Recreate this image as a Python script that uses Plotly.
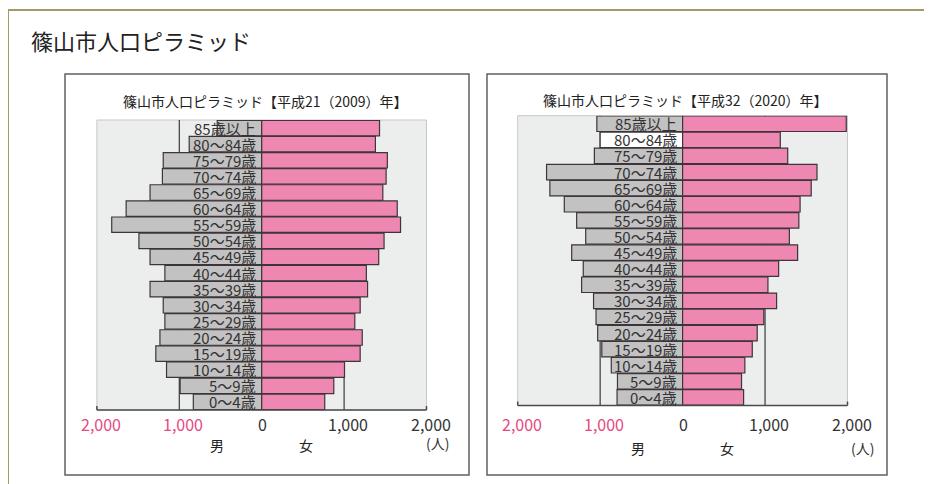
import plotly.graph_objects as go

# The page adds an 8px body margin, so the figure is sized to fill the rest of the window
OFF = 8
W, H = 932 - OFF, 484 - OFF

ages = ["85歳以上", "80〜84歳", "75〜79歳", "70〜74歳", "65〜69歳", "60〜64歳",
        "55〜59歳", "50〜54歳", "45〜49歳", "40〜44歳", "35〜39歳", "30〜34歳",
        "25〜29歳", "20〜24歳", "15〜19歳", "10〜14歳", "5〜9歳", "0〜4歳"]

male_2009 = [540, 880, 1195, 1205, 1355, 1645, 1820, 1490, 1355, 1175,
             1355, 1195, 1175, 1235, 1285, 1155, 990, 830]
female_2009 = [1430, 1380, 1525, 1510, 1470, 1645, 1685, 1485, 1420, 1270,
               1285, 1195, 1130, 1220, 1195, 1005, 875, 765]
male_2020 = [1040, 1000, 1070, 1650, 1610, 1435, 1285, 1175, 1345, 1205,
             1225, 1080, 1050, 1030, 980, 865, 790, 795]
female_2020 = [1985, 1185, 1275, 1630, 1560, 1425, 1410, 1295, 1395, 1165,
               1035, 1140, 985, 905, 845, 755, 715, 740]

tick_vals = [-2000, -1000, 0, 1000, 2000]
tick_text = ["2,000", "1,000", "0", "1,000", "2,000"]

main_title = "篠山市人口ピラミッド"
panel_titles = ["篠山市人口ピラミッド【平成21（2009）年】",
                "篠山市人口ピラミッド【平成32（2020）年】"]

FONT = "Noto Sans CJK JP"
GRAY = "#C2C2C2"
PINK = "#EE87B1"
EDGE = "#3D3538"
BG = "#ECEEEE"
TXT = "#333333"
TICKPINK = "#E84880"


def px(x):
    return (x - OFF) / W


def py(y):
    return 1 - (y - OFF) / H


# panel geometry (window pixels)
panels = [
    dict(x0=96.9, x1=426.5, y0=120, y1=410, box=(65, 74, 469, 475),
         title_x=265, title_y=101.5, sex_y=445, unit=(437, 443)),
    dict(x0=517.7, x1=847.5, y0=115.7, y1=405.5, box=(487, 74, 887, 475),
         title_x=685, title_y=100, sex_y=448, unit=(862, 448)),
]
data = [(male_2009, female_2009), (male_2020, female_2020)]

fig = go.Figure()
shapes = []
annotations = []

for i, (p, (male, female)) in enumerate(zip(panels, data)):
    xa = "x" if i == 0 else "x2"
    ya = "y" if i == 0 else "y2"
    xn = "xaxis" if i == 0 else "xaxis2"
    yn = "yaxis" if i == 0 else "yaxis2"

    male_colors = [GRAY] * len(ages)
    if i == 1:
        male_colors[1] = "#FFFFFF"

    fig.add_trace(go.Bar(y=ages, x=[-v for v in male], orientation="h",
                         marker=dict(color=male_colors, line=dict(color=EDGE, width=1.2)),
                         xaxis=xa, yaxis=ya, hoverinfo="skip"))
    fig.add_trace(go.Bar(y=ages, x=female, orientation="h",
                         marker=dict(color=PINK, line=dict(color=EDGE, width=1.2)),
                         xaxis=xa, yaxis=ya, hoverinfo="skip"))

    fig.update_layout(**{
        xn: dict(domain=[px(p["x0"]), px(p["x1"])], range=[-2000, 2000],
                 showticklabels=False, showgrid=False, zeroline=False,
                 showline=False, fixedrange=True, anchor=ya),
        yn: dict(domain=[py(p["y1"]), py(p["y0"])], type="category",
                 categoryorder="array", categoryarray=ages[::-1],
                 range=[-0.5, len(ages) - 0.5], showticklabels=False,
                 showgrid=False, zeroline=False, showline=False,
                 fixedrange=True, anchor=xa),
    })

    xd = xa + " domain"
    yd = ya + " domain"
    shapes.append(dict(type="rect", xref=xd, yref=yd, x0=0, x1=1, y0=0, y1=1,
                       line=dict(color="#C8C8C8", width=1), layer="below"))
    for v in (-1000, 1000):
        shapes.append(dict(type="line", xref=xa, yref=yd, x0=v, x1=v, y0=0, y1=1,
                           line=dict(color="#3A3A3A", width=1.2), layer="below"))
    shapes.append(dict(type="line", xref=xd, yref=yd, x0=0, x1=1, y0=0, y1=0,
                       line=dict(color="#4A4A4A", width=1.5), layer="above"))
    for e in (0, 1):
        shapes.append(dict(type="line", xref=xd, yref=yd, x0=e, x1=e, y0=0,
                           y1=4 / (p["y1"] - p["y0"]),
                           line=dict(color="#4A4A4A", width=1.5), layer="above"))
    bx0, by0, bx1, by1 = p["box"]
    shapes.append(dict(type="rect", xref="paper", yref="paper",
                       x0=px(bx0), x1=px(bx1), y0=py(by1), y1=py(by0),
                       line=dict(color="#606060", width=1.5), layer="below"))

    annotations.append(dict(text=panel_titles[i], xref="paper", yref="paper",
                            x=px(p["title_x"]), y=py(p["title_y"]),
                            xanchor="center", yanchor="middle", showarrow=False,
                            font=dict(family=FONT, size=14, color="#222222")))
    for a in ages:
        annotations.append(dict(text=a, xref=xa, yref=ya, x=0, y=a,
                                xanchor="right", yanchor="middle", xshift=-4,
                                showarrow=False,
                                font=dict(family=FONT, size=15, color=TXT)))
    for v, t in zip(tick_vals, tick_text):
        annotations.append(dict(text=t, xref=xa, yref="paper", x=v, y=py(424),
                                xanchor="center", yanchor="middle",
                                xshift=4 if v != 0 else 1, showarrow=False,
                                font=dict(family=FONT, size=16,
                                          color=TICKPINK if v < 0 else TXT)))
    for v, t in ((-540, "男"), (540, "女")):
        annotations.append(dict(text=t, xref=xa, yref="paper", x=v, y=py(p["sex_y"]),
                                xanchor="center", yanchor="middle", showarrow=False,
                                font=dict(family=FONT, size=14, color="#222222")))
    ux, uy = p["unit"]
    annotations.append(dict(text="(人)", xref="paper", yref="paper", x=px(ux), y=py(uy),
                            xanchor="center", yanchor="middle", showarrow=False,
                            font=dict(family=FONT, size=14, color=TXT)))

# outer olive frame
shapes.append(dict(type="rect", xref="paper", yref="paper",
                   x0=px(8), x1=px(960), y0=py(520), y1=py(10),
                   line=dict(color="#A39A68", width=2), layer="below"))

annotations.append(dict(text=main_title, xref="paper", yref="paper",
                        x=px(29), y=py(40), xanchor="left", yanchor="middle",
                        showarrow=False,
                        font=dict(family=FONT, size=22, color="#222222")))

fig.update_layout(width=W, height=H, margin=dict(l=0, r=0, t=0, b=0),
                  paper_bgcolor="white", plot_bgcolor=BG,
                  barmode="relative", bargap=0.04, showlegend=False,
                  shapes=shapes, annotations=annotations)

fig.write_html("out.html")
